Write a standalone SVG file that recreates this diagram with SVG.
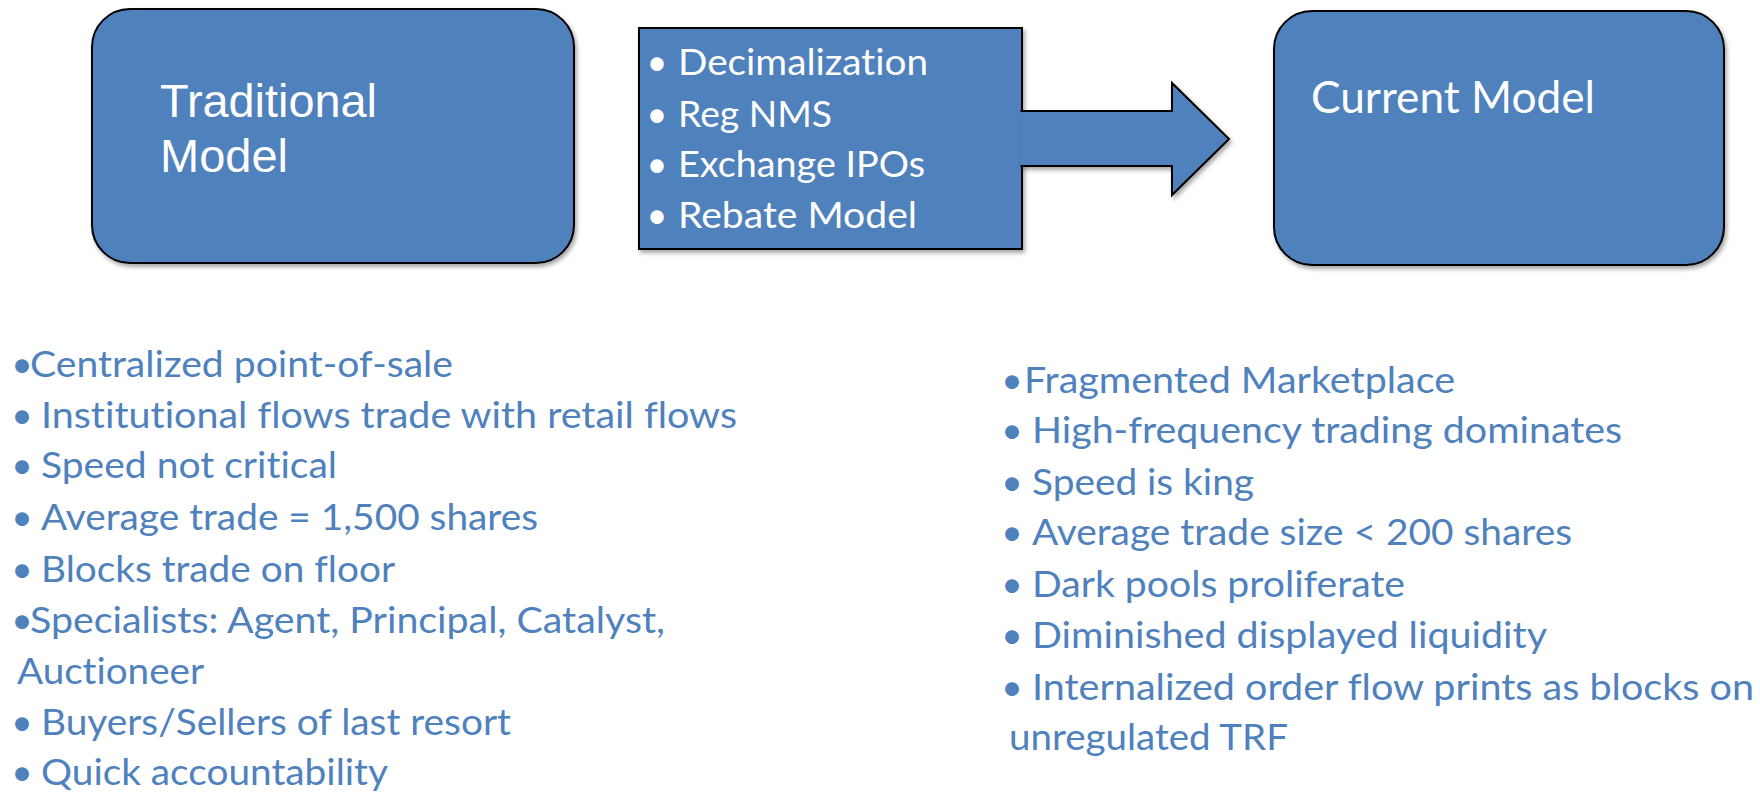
<svg xmlns="http://www.w3.org/2000/svg" width="1760" height="792" viewBox="0 0 1760 792">
<defs>
<filter id="sh" x="-5%" y="-5%" width="115%" height="120%">
<feDropShadow dx="2" dy="3" stdDeviation="2" flood-color="#000" flood-opacity="0.35"/>
</filter>
<style>
text{font-variant-ligatures:none;font-feature-settings:"liga" 0}
.box{fill:#4F81BD;stroke:#000;stroke-width:2;filter:url(#sh)}
.arr{fill:#4F81BD;stroke:#000;stroke-width:2;stroke-linejoin:miter;filter:url(#sh)}
.ttl{font-family:"Liberation Sans",Arial,sans-serif;font-size:47px;fill:#fff}
.cal{font-family:Lato,"Open Sans",sans-serif;font-size:44px;fill:#fff}
.mid{font-family:Lato,"Open Sans",sans-serif;font-size:36px;fill:#fff}
.lst{font-family:Lato,"Open Sans",sans-serif;font-size:37px;fill:#4F81BD}
.bw{font-family:Lato,"Open Sans",sans-serif;font-size:36px;fill:#fff;text-anchor:middle}
.bb{font-family:Lato,"Open Sans",sans-serif;font-size:37px;fill:#4F81BD;text-anchor:middle}
</style>
</defs>
<rect width="1760" height="792" fill="#fff"/>

<g id="traditional-model">
<rect class="box" x="92" y="9" width="482" height="254" rx="38" ry="38"/>
<text class="ttl" x="160" y="117" textLength="217" lengthAdjust="spacingAndGlyphs">Traditional</text>
<text class="ttl" x="160" y="172">Model</text>
</g>

<g id="changes">
<rect class="box" x="639" y="28" width="383" height="221"/>
<text class="bw" x="657" y="75">•</text>
<text class="mid" x="678" y="75" textLength="250" lengthAdjust="spacingAndGlyphs">Decimalization</text>
<text class="bw" x="657" y="127">•</text>
<text class="mid" x="678" y="127" textLength="154" lengthAdjust="spacingAndGlyphs">Reg NMS</text>
<text class="bw" x="657" y="177">•</text>
<text class="mid" x="678" y="177" textLength="247" lengthAdjust="spacingAndGlyphs">Exchange IPOs</text>
<text class="bw" x="657" y="228">•</text>
<text class="mid" x="678" y="228" textLength="239" lengthAdjust="spacingAndGlyphs">Rebate Model</text>
</g>

<g id="connectors">
<path class="arr" d="M1020.5,111 H1172 V83 L1229,139 L1172,195 V166 H1020.5"/>
</g>

<g id="current-model">
<rect class="box" x="1274" y="11" width="450" height="254" rx="38" ry="38"/>
<text class="cal" x="1311" y="113" textLength="284" lengthAdjust="spacingAndGlyphs">Current Model</text>
</g>

<g id="traditional-list">
<text class="bb" x="22" y="377">•</text>
<text class="lst" x="30" y="377" textLength="423" lengthAdjust="spacingAndGlyphs">Centralized point-of-sale</text>
<text class="bb" x="22" y="428">•</text>
<text class="lst" x="41" y="428" textLength="696" lengthAdjust="spacingAndGlyphs">Institutional flows trade with retail flows</text>
<text class="bb" x="22" y="478">•</text>
<text class="lst" x="41" y="478" textLength="296" lengthAdjust="spacingAndGlyphs">Speed not critical</text>
<text class="bb" x="22" y="530">•</text>
<text class="lst" x="41" y="530" textLength="497" lengthAdjust="spacingAndGlyphs">Average trade = 1,500 shares</text>
<text class="bb" x="22" y="582">•</text>
<text class="lst" x="41" y="582" textLength="354" lengthAdjust="spacingAndGlyphs">Blocks trade on floor</text>
<text class="bb" x="22" y="633">•</text>
<text class="lst" x="30" y="633" textLength="635" lengthAdjust="spacingAndGlyphs">Specialists: Agent, Principal, Catalyst,</text>
<text class="lst" x="17" y="684" textLength="187" lengthAdjust="spacingAndGlyphs">Auctioneer</text>
<text class="bb" x="22" y="735">•</text>
<text class="lst" x="41" y="735" textLength="470" lengthAdjust="spacingAndGlyphs">Buyers/Sellers of last resort</text>
<text class="bb" x="22" y="785">•</text>
<text class="lst" x="41" y="785" textLength="347" lengthAdjust="spacingAndGlyphs">Quick accountability</text>
</g>

<g id="current-list">
<text class="bb" x="1012" y="393">•</text>
<text class="lst" x="1024" y="393" textLength="431" lengthAdjust="spacingAndGlyphs">Fragmented Marketplace</text>
<text class="bb" x="1012" y="443">•</text>
<text class="lst" x="1032" y="443" textLength="590" lengthAdjust="spacingAndGlyphs">High-frequency trading dominates</text>
<text class="bb" x="1012" y="495">•</text>
<text class="lst" x="1032" y="495" textLength="222" lengthAdjust="spacingAndGlyphs">Speed is king</text>
<text class="bb" x="1012" y="545">•</text>
<text class="lst" x="1032" y="545" textLength="540" lengthAdjust="spacingAndGlyphs">Average trade size &lt; 200 shares</text>
<text class="bb" x="1012" y="597">•</text>
<text class="lst" x="1032" y="597" textLength="373" lengthAdjust="spacingAndGlyphs">Dark pools proliferate</text>
<text class="bb" x="1012" y="648">•</text>
<text class="lst" x="1032" y="648" textLength="515" lengthAdjust="spacingAndGlyphs">Diminished displayed liquidity</text>
<text class="bb" x="1012" y="700">•</text>
<text class="lst" x="1032" y="700" textLength="722" lengthAdjust="spacingAndGlyphs">Internalized order flow prints as blocks on</text>
<text class="lst" x="1009" y="750" textLength="279" lengthAdjust="spacingAndGlyphs">unregulated TRF</text>
</g>
</svg>
